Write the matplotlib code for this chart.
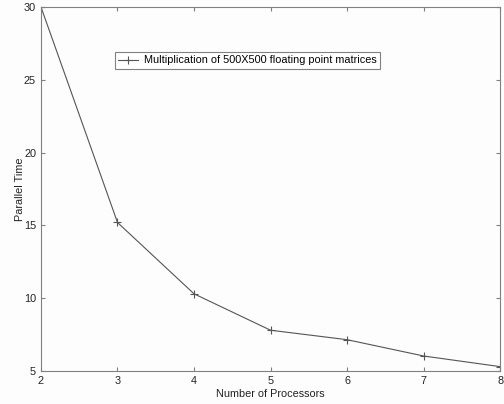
import matplotlib.pyplot as plt

# Data
processors = [2, 3, 4, 5, 6, 7, 8]
parallel_time = [30.0, 15.2, 10.3, 7.8, 7.15, 6.03, 5.3]
x_ticks = [2, 3, 4, 5, 6, 7, 8]
y_ticks = [5, 10, 15, 20, 25, 30]

plt.rcParams["font.family"] = ["Liberation Sans", "DejaVu Sans"]
plt.rcParams["font.size"] = 7.8

fig = plt.figure(figsize=(5.04, 4.04), dpi=100)
fig.patch.set_facecolor("#fdfdfd")
ax = fig.add_axes([0.0813, 0.0817, 0.911, 0.901])
ax.set_facecolor("#fdfdfd")

ax.plot(processors, parallel_time, color="#555555", linewidth=0.8, marker="+",
        markersize=6, markeredgewidth=0.8,
        label="Multiplication of 500X500 floating point matrices")

ax.set_xlim(2, 8)
ax.set_ylim(5, 30)
ax.set_xticks(x_ticks)
ax.set_yticks(y_ticks)
ax.tick_params(direction="in", length=3, width=0.8, color="#808080",
               top=True, right=True, labelcolor="#222222")
ax.tick_params(axis="x", pad=3.5)
ax.tick_params(axis="y", pad=3.5)
for s in ax.spines.values():
    s.set_color("#808080")
    s.set_linewidth(0.8)

ax.set_xlabel("Number of Processors", color="#222222", labelpad=2.5)
ax.set_ylabel("Parallel Time", color="#222222", labelpad=-1)

leg = ax.legend(loc="upper left", bbox_to_anchor=(0.161, 0.876), fancybox=False,
                framealpha=1, edgecolor="#808080", handlelength=1.8,
                handletextpad=0.6, borderpad=0.3, borderaxespad=0)
leg.get_frame().set_linewidth(0.8)

plt.savefig("out.png", dpi=100, facecolor=fig.get_facecolor())
